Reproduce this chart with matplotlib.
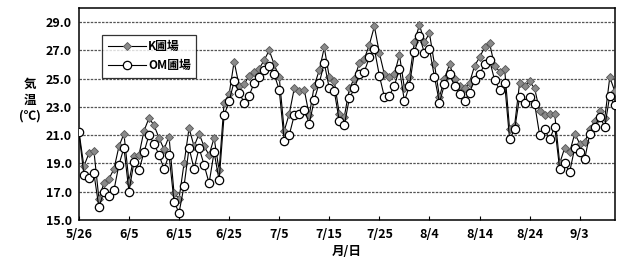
import numpy as np
import matplotlib
matplotlib.use('Agg')
import matplotlib.pyplot as plt

plt.rcParams['font.family'] = ['Noto Sans CJK JP', 'DejaVu Sans']

# daily air temperature, 5/26 .. 9/10
k_field = [
    21.3, 18.8, 19.7, 19.9, 16.5, 17.6, 17.9, 18.6, 20.2, 21.1,
    17.7, 19.5, 19.6, 21.3, 22.2, 21.7, 20.8, 20.0, 20.9, 16.9,
    16.5, 19.0, 21.5, 20.2, 21.1, 20.2, 19.6, 20.8, 18.5, 23.3,
    23.9, 26.2, 24.5, 24.6, 25.2, 25.5, 25.7, 26.3, 27.0, 26.0,
    25.1, 21.3, 22.5, 24.3, 24.1, 24.2, 22.4, 24.5, 25.6, 27.2,
    25.1, 24.8, 22.5, 22.3, 24.3, 25.0, 26.1, 26.4, 27.4, 28.7,
    26.8, 25.3, 25.1, 25.3, 26.7, 24.3, 25.1, 27.6, 28.8, 27.6,
    28.2, 26.0, 23.7, 25.0, 26.0, 25.0, 24.5, 24.3, 24.7, 25.9,
    26.5, 27.2, 27.5, 25.9, 25.5, 25.7, 21.4, 21.7, 24.7, 24.5,
    24.8, 24.3, 22.7, 22.4, 22.5, 22.5, 19.0, 20.1, 19.8, 21.1,
    20.4, 20.5, 21.4, 22.0, 22.7, 22.2, 25.1, 24.1,
]
om_field = [
    21.2, 18.2, 18.0, 18.3, 15.9, 17.0, 16.7, 17.1, 18.9, 20.1,
    17.0, 19.1, 18.5, 19.8, 21.0, 20.4, 19.6, 18.6, 19.6, 16.3,
    15.5, 17.4, 20.1, 18.6, 20.1, 18.9, 17.6, 19.8, 17.8, 22.4,
    23.4, 24.8, 24.0, 23.3, 23.8, 24.7, 25.1, 25.6, 25.9, 25.3,
    24.2, 20.6, 21.0, 22.4, 22.5, 22.8, 21.8, 23.5, 24.7, 26.1,
    24.3, 24.1, 22.0, 21.7, 23.6, 24.3, 25.3, 25.5, 26.5, 27.1,
    25.2, 23.7, 23.8, 24.5, 25.7, 23.4, 24.5, 26.9, 28.0, 26.8,
    27.1, 25.1, 23.3, 24.6, 25.3, 24.5, 23.9, 23.4, 24.0, 24.9,
    25.3, 26.0, 26.3, 24.9, 24.2, 24.7, 20.7, 21.4, 23.7, 23.3,
    23.7, 23.2, 21.0, 21.4, 20.7, 21.6, 18.6, 19.0, 18.4, 20.1,
    19.8, 19.3, 21.1, 21.6, 22.3, 21.6, 23.8, 23.1,
]
date_labels = ['5/26', '6/5', '6/15', '6/25', '7/5', '7/15', '7/25',
               '8/4', '8/14', '8/24', '9/3']
y_ticks = [15, 17, 19, 21, 23, 25, 27, 29]

days = np.arange(len(k_field))

fig = plt.figure(figsize=(6.21, 2.64), dpi=100)
ax = fig.add_axes([0.127, 0.167, 0.863, 0.803])

ax.plot(days, k_field, color='black', lw=0.8, marker='D', ms=3.8,
        mfc='#8a8a8a', mec='#555555', mew=0.6, label='K圃場', zorder=3)
ax.plot(days, om_field, color='black', lw=0.8, marker='o', ms=6,
        mfc='white', mec='black', mew=0.9, label='OM圃場', zorder=4)

ax.set_xlim(0, len(k_field) - 1)
ax.set_ylim(15, 30)
ax.set_xticks(np.arange(0, 101, 10))
ax.set_xticklabels(date_labels)
ax.set_yticks(y_ticks)
ax.set_yticklabels([f'{v:.1f}' for v in y_ticks])
ax.tick_params(axis='x', direction='in', length=3, pad=6, labelsize=9)
ax.tick_params(axis='y', length=0, pad=5, labelsize=9)
for lab in ax.get_xticklabels() + ax.get_yticklabels():
    lab.set_fontweight('bold')

for v in y_ticks[1:]:
    ax.axhline(v, color='#555555', lw=0.9, ls=(0, (2, 1)), zorder=1)

for s in ax.spines.values():
    s.set_linewidth(1.1)

ax.set_xlabel('月/日', fontsize=9, fontweight='bold', labelpad=3)
fig.text(0.048, 0.62, '気\n温\n(℃)', ha='center', va='center',
         fontsize=9, fontweight='bold', linespacing=1.3)

leg = ax.legend(loc='upper left', bbox_to_anchor=(0.033, 0.9),
                frameon=True, fancybox=False, edgecolor='black',
                fontsize=8.5, handlelength=3.2, borderpad=0.45,
                labelspacing=0.5, handletextpad=0.2)
leg.get_frame().set_linewidth(0.9)
for t in leg.get_texts():
    t.set_fontweight('bold')

fig.savefig('out.png', dpi=100)
